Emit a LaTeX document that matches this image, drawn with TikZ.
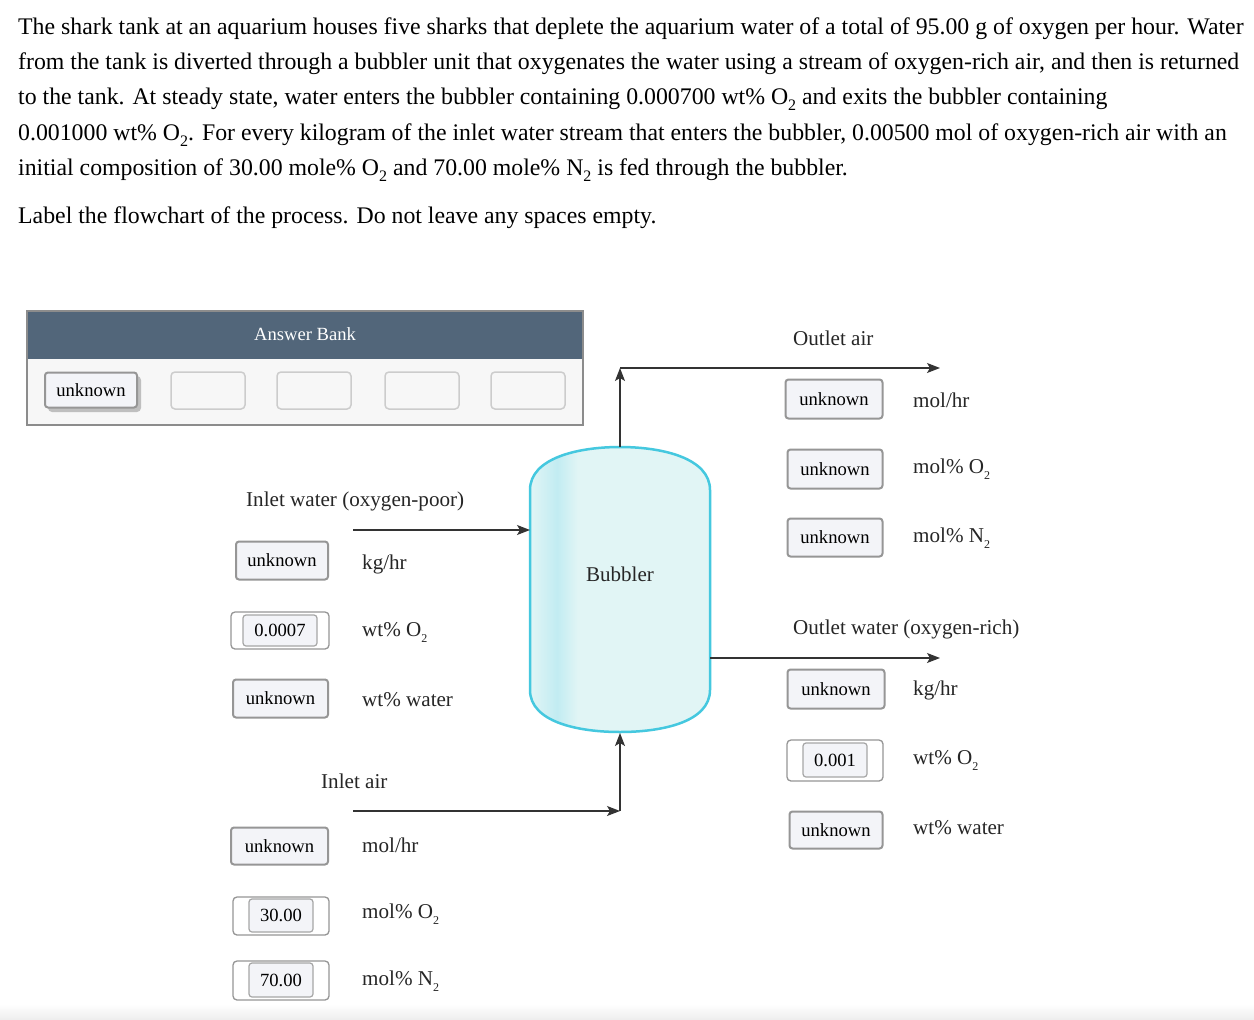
\documentclass[tikz,border=0pt]{standalone}
\usepackage{fontspec}
\setmainfont{Liberation Serif}
\usetikzlibrary{arrows.meta}
\definecolor{hdr}{HTML}{52667A}
\definecolor{bankbg}{HTML}{F7F7F7}
\definecolor{chipfill}{HTML}{F3F4F8}
\definecolor{chipedge}{HTML}{969696}
\definecolor{slotedge}{HTML}{CCCCCC}
\definecolor{tankedge}{HTML}{45C8DF}
\definecolor{tankfill}{HTML}{E1F5F5}
\definecolor{tankband}{HTML}{C2ECF2}
\definecolor{linec}{HTML}{333333}
\newcommand{\bodysub}[1]{\raisebox{-6pt}{\fontsize{16}{16}\selectfont #1}}
\newcommand{\lblsub}[1]{\raisebox{-6pt}{\fontsize{12}{12}\selectfont #1}}
\tikzset{
  body/.style={anchor=base west, inner sep=0pt, font=\fontsize{23.8}{27}\selectfont},
  lbl/.style={anchor=west, inner sep=0pt, font=\fontsize{21.1}{25}\selectfont, text=black!85},
  chip/.style={draw=chipedge, line width=2pt, fill=chipfill, rounded corners=3pt, inner sep=0pt,
     font=\fontsize{18.6}{22}\selectfont},
  outerslot/.style={draw=chipedge, line width=1.3pt, fill=white, rounded corners=4pt, inner sep=0pt},
  innerchip/.style={draw=black!35, line width=1.2pt, fill=chipfill, rounded corners=3pt, inner sep=0pt,
     font=\fontsize{18.6}{22}\selectfont},
  emptyslot/.style={draw=slotedge, line width=1.5pt, fill=bankbg, rounded corners=4pt, inner sep=0pt,
     minimum width=74pt, minimum height=37pt},
  flow/.style={draw=linec, line width=1.2pt, -{Stealth[length=13pt,width=10pt,inset=3pt]}},
}
\begin{document}
\begin{tikzpicture}[x=1pt,y=-1pt]
\useasboundingbox (0,0) rectangle (1254,1020);
\fill[white] (0,0) rectangle (1254,1020);
\shade[top color=white, bottom color=black!7] (0,1004) rectangle (1254,1020);

% problem text
\node[body] (t1) at (18,34) {The shark tank at an aquarium houses five sharks that deplete the aquarium water of a total of 95.00 g of oxygen per hour. Water};
\node[body] (t2) at (18,69) {from the tank is diverted through a bubbler unit that oxygenates the water using a stream of oxygen-rich air, and then is returned};
\node[body] (t3) at (18,104) {to the tank. At steady state, water enters the bubbler containing 0.000700 wt\% O\bodysub{2} and exits the bubbler containing};
\node[body] (t4) at (18,140) {0.001000 wt\% O\bodysub{2}. For every kilogram of the inlet water stream that enters the bubbler, 0.00500 mol of oxygen-rich air with an};
\node[body] (t5) at (18,175) {initial composition of 30.00 mole\% O\bodysub{2} and 70.00 mole\% N\bodysub{2} is fed through the bubbler.};
\node[body] (t6) at (18,223) {Label the flowchart of the process. Do not leave any spaces empty.};

% answer bank
\draw[fill=bankbg, draw=black!45, line width=1.5pt] (27,311) rectangle (583,425);
\fill[hdr] (27,311) rectangle (583,359);
\draw[black!45, line width=1.5pt] (27,311) rectangle (583,425);
\node[text=white, font=\fontsize{18.6}{22}\selectfont] (bankt) at (305,334) {Answer Bank};
\fill[black!25, rounded corners=4pt] (48,376) rectangle (141,412);
\node[chip, minimum width=92pt, minimum height=35pt] (b0) at (91,390) {unknown};
\node[emptyslot] (b1) at (208,390.5) {};
\node[emptyslot] (b2) at (314,390.5) {};
\node[emptyslot] (b3) at (422,390.5) {};
\node[emptyslot] (b4) at (528,390.5) {};

% bubbler
\begin{scope}
\path[clip] (530,490) -- (530,690) .. controls (530,722) and (578,732) .. (620,732)
   .. controls (662,732) and (710,722) .. (710,690) -- (710,490)
   .. controls (710,458) and (662,447) .. (620,447) .. controls (578,447) and (530,458) .. (530,490) -- cycle;
\fill[tankfill] (525,440) rectangle (715,740);
\shade[left color=tankfill, right color=tankband] (530,440) rectangle (557,740);
\shade[left color=tankband, right color=tankfill] (557,440) rectangle (578,740);
\end{scope}
\draw[tankedge, line width=2.5pt] (530,490) -- (530,690) .. controls (530,722) and (578,732) .. (620,732)
   .. controls (662,732) and (710,722) .. (710,690) -- (710,490)
   .. controls (710,458) and (662,447) .. (620,447) .. controls (578,447) and (530,458) .. (530,490) -- cycle;
\node[font=\fontsize{21}{24}\selectfont, text=black!85] (bub) at (620,574) {Bubbler};

% connector points
\coordinate (toptank) at (620,447);
\coordinate (aircorner) at (620,368);
\coordinate (airout) at (940,368);
\coordinate (winstart) at (353,530);
\coordinate (winend) at (530,530);
\coordinate (woutstart) at (710,658);
\coordinate (woutend) at (940,658);
\coordinate (ainstart) at (353,811);
\coordinate (aincorner) at (620,811);
\coordinate (bottank) at (620,733);

\draw[flow] (toptank) -- (aircorner);
\draw[flow] (aircorner) -- (airout);
\draw[flow] (winstart) -- (winend);
\draw[flow] (woutstart) -- (woutend);
\draw[flow] (ainstart) -- (aincorner);
\draw[flow] (aincorner) -- (bottank);

% stream titles
\node[lbl] (oa) at (793,338) {Outlet air};
\node[lbl] (iw) at (246,501) {Inlet water (oxygen-poor)};
\node[lbl] (ow) at (793,629) {Outlet water (oxygen-rich)};
\node[lbl] (ia) at (321,781) {Inlet air};

% left column: inlet water
\node[chip, minimum width=92pt, minimum height=38pt] (c1) at (282,560.5) {unknown};
\node[lbl] (u1) at (362,564) {kg/hr};
\node[outerslot, minimum width=98pt, minimum height=37pt] (p1o) at (280,630.5) {};
\node[innerchip, minimum width=74pt, minimum height=31pt] (p1) at (280,630.5) {0.0007};
\node[lbl] (u2) at (362,632) {wt\% O\lblsub{2}};
\node[chip, minimum width=95pt, minimum height=38pt] (c2) at (280.5,698.5) {unknown};
\node[lbl] (u3) at (362,700) {wt\% water};

% left column: inlet air
\node[chip, minimum width=97pt, minimum height=37pt] (c3) at (279.5,846) {unknown};
\node[lbl] (u4) at (362,845) {mol/hr};
\node[outerslot, minimum width=96pt, minimum height=38pt] (p2o) at (281,916) {};
\node[innerchip, minimum width=64pt, minimum height=33pt] (p2) at (281,915.5) {30.00};
\node[lbl] (u5) at (362,914) {mol\% O\lblsub{2}};
\node[outerslot, minimum width=96pt, minimum height=39pt] (p3o) at (281,980.5) {};
\node[innerchip, minimum width=64pt, minimum height=34pt] (p3) at (281,980) {70.00};
\node[lbl] (u6) at (362,981) {mol\% N\lblsub{2}};

% right column: outlet air
\node[chip, minimum width=97pt, minimum height=39pt] (c4) at (834,399) {unknown};
\node[lbl] (u7) at (913,400) {mol/hr};
\node[chip, minimum width=95pt, minimum height=39pt] (c5) at (835,469) {unknown};
\node[lbl] (u8) at (913,469) {mol\% O\lblsub{2}};
\node[chip, minimum width=95pt, minimum height=38pt] (c6) at (835,537.5) {unknown};
\node[lbl] (u9) at (913,538) {mol\% N\lblsub{2}};

% right column: outlet water
\node[chip, minimum width=97pt, minimum height=39pt] (c7) at (836,689) {unknown};
\node[lbl] (u10) at (913,690) {kg/hr};
\node[outerslot, minimum width=96pt, minimum height=41pt] (p4o) at (835,760.5) {};
\node[innerchip, minimum width=64pt, minimum height=34pt] (p4) at (835,760) {0.001};
\node[lbl] (u11) at (913,760) {wt\% O\lblsub{2}};
\node[chip, minimum width=93pt, minimum height=37pt] (c8) at (836,830) {unknown};
\node[lbl] (u12) at (913,828) {wt\% water};
\end{tikzpicture}
\end{document}
